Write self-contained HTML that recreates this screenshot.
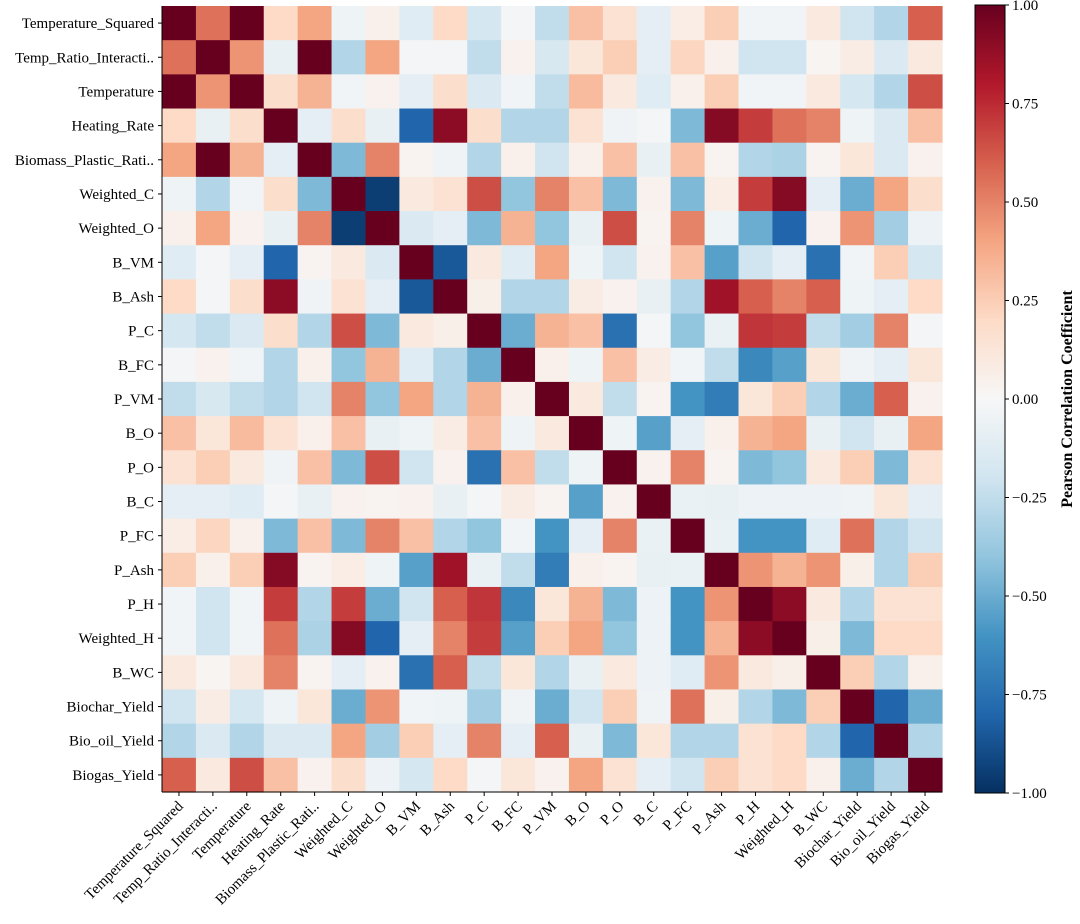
<!DOCTYPE html>
<html><head><meta charset="utf-8"><style>
body{margin:0;background:#fff;width:1080px;height:919px;overflow:hidden}
svg text{font-family:"Liberation Serif",serif;fill:#000}
</style></head><body>
<svg id="chart" width="1080" height="919" xmlns="http://www.w3.org/2000/svg"></svg>
<script>
const labels = ["Temperature_Squared","Temp_Ratio_Interacti..","Temperature","Heating_Rate","Biomass_Plastic_Rati..","Weighted_C","Weighted_O","B_VM","B_Ash","P_C","B_FC","P_VM","B_O","P_O","B_C","P_FC","P_Ash","P_H","Weighted_H","B_WC","Biochar_Yield","Bio_oil_Yield","Biogas_Yield"];
// upper triangle rows, each starting at the diagonal
const upper = [
[1,0.55,1,0.2,0.4,-0.05,0.05,-0.12,0.2,-0.18,-0.02,-0.25,0.3,0.15,-0.1,0.07,0.25,-0.03,-0.03,0.1,-0.2,-0.3,0.6],
[1,0.45,-0.08,1,-0.3,0.4,-0.02,-0.02,-0.25,0.04,-0.17,0.12,0.25,-0.1,0.22,0.05,-0.2,-0.2,0.02,0.08,-0.15,0.1],
[1,0.18,0.35,-0.03,0.04,-0.1,0.18,-0.15,-0.03,-0.25,0.32,0.1,-0.12,0.05,0.25,-0.03,-0.03,0.1,-0.18,-0.3,0.65],
[1,-0.1,0.18,-0.08,-0.8,0.9,0.18,-0.3,-0.3,0.15,-0.04,-0.02,-0.45,0.92,0.7,0.55,0.5,-0.05,-0.15,0.3],
[1,-0.45,0.5,0.03,-0.04,-0.3,0.05,-0.2,0.05,0.3,-0.08,0.3,0.03,-0.3,-0.32,0.03,0.12,-0.15,0.04],
[1,-0.95,0.1,0.15,0.65,-0.4,0.5,0.3,-0.45,0.04,-0.45,0.07,0.7,0.92,-0.1,-0.5,0.4,0.18],
[1,-0.15,-0.1,-0.45,0.35,-0.4,-0.08,0.65,0.03,0.5,-0.05,-0.5,-0.8,0.04,0.45,-0.35,-0.06],
[1,-0.85,0.1,-0.12,0.4,-0.05,-0.2,0.04,0.3,-0.55,-0.2,-0.1,-0.75,-0.03,0.25,-0.18],
[1,0.06,-0.3,-0.3,0.08,0.04,-0.08,-0.3,0.85,0.6,0.5,0.6,-0.05,-0.1,0.2],
[1,-0.5,0.35,0.3,-0.75,-0.02,-0.4,-0.07,0.72,0.7,-0.25,-0.35,0.5,-0.02],
[1,0.05,-0.05,0.3,0.08,-0.03,-0.25,-0.65,-0.55,0.12,-0.04,-0.1,0.12],
[1,0.1,-0.25,0.03,-0.6,-0.7,0.12,0.25,-0.3,-0.5,0.6,0.04],
[1,-0.05,-0.55,-0.1,0.05,0.35,0.4,-0.08,-0.2,-0.08,0.4],
[1,0.04,0.5,0.03,-0.45,-0.4,0.1,0.25,-0.45,0.15],
[1,-0.07,-0.08,-0.06,-0.06,-0.06,-0.04,0.12,-0.1],
[1,-0.07,-0.6,-0.6,-0.12,0.55,-0.3,-0.2],
[1,0.45,0.35,0.45,0.06,-0.3,0.25],
[1,0.9,0.1,-0.3,0.15,0.15],
[1,0.06,-0.45,0.2,0.2],
[1,0.25,-0.3,0.05],
[1,-0.8,-0.5],
[1,-0.3],
[1]
];
const cbTicks = [1,0.75,0.5,0.25,0,-0.25,-0.5,-0.75,-1];

const NS="http://www.w3.org/2000/svg";
const svg=document.getElementById('chart');
const n=labels.length;
const X0=162,X1=942,Y0=6,Y1=792;
const cw=(X1-X0)/n, ch=(Y1-Y0)/n;
const xPos=j=>X0+j*cw, yPos=i=>Y0+i*ch;
const stops=["#053061","#2166ac","#4393c3","#92c5de","#d1e5f0","#f7f7f7","#fddbc7","#f4a582","#d6604d","#b2182b","#67001f"];
function hex(h){return [1,3,5].map(k=>parseInt(h.substr(k,2),16));}
function color(v){
  let t=(Math.max(-1,Math.min(1,v))+1)/2*10;
  let k=Math.min(9,Math.floor(t)),f=t-k;
  const a=hex(stops[k]),b=hex(stops[k+1]);
  return 'rgb('+a.map((c,q)=>Math.round(c+(b[q]-c)*f)).join(',')+')';
}
function val(i,j){return i<=j?upper[i][j-i]:upper[j][i-j];}
function el(tag,attrs,parent){const e=document.createElementNS(NS,tag);for(const k in attrs)e.setAttribute(k,attrs[k]);(parent||svg).appendChild(e);return e;}
const g=el('g',{});


for(let i=0;i<n;i++)for(let j=0;j<n;j++){
  const r=el('rect',{x:xPos(j),y:yPos(i),width:cw+0.6,height:ch+0.6,fill:color(val(i,j))},g);
  
  
}
el('line',{x1:X0,y1:Y0,x2:X0,y2:Y1,stroke:'#000','stroke-width':1});
el('line',{x1:X0,y1:Y1,x2:X1,y2:Y1,stroke:'#000','stroke-width':1});
for(let i=0;i<n;i++){
  const cy=yPos(i)+ch/2;
  el('line',{x1:X0-4,y1:cy,x2:X0,y2:cy,stroke:'#000'});
  const t=el('text',{x:X0-8,y:cy+5,'text-anchor':'end','font-size':15});
  t.textContent=labels[i];
  
  
  const cx=xPos(i)+cw/2;
  el('line',{x1:cx,y1:Y1,x2:cx,y2:Y1+4,stroke:'#000'});
  const tx=el('text',{x:cx+5,y:Y1+15,'text-anchor':'end','font-size':15,transform:'rotate(-45 '+(cx+5)+' '+(Y1+15)+')'});
  tx.textContent=labels[i];
  
  
}
const CBX=975,CBW=30,CBY0=5,CBY1=793;
const defs=el('defs',{});
const lg=el('linearGradient',{id:'cbg',x1:0,y1:1,x2:0,y2:0},defs);
stops.forEach((s,k)=>el('stop',{offset:(k/10),'stop-color':s},lg));
const cb=el('rect',{x:CBX,y:CBY0,width:CBW,height:CBY1-CBY0,fill:'url(#cbg)',stroke:'#000','stroke-width':1});


const cbY=v=>CBY1-(v+1)/2*(CBY1-CBY0);
cbTicks.forEach(v=>{
  const y=cbY(v);
  el('line',{x1:CBX+CBW,y1:y,x2:CBX+CBW+4,y2:y,stroke:'#000'});
  const t=el('text',{x:CBX+CBW+7,y:y+5,'font-size':15});
  t.textContent=(v<0?'\u2212':'')+Math.abs(v).toFixed(2);
  
  
});
const ct=el('text',{x:1072,y:399,'text-anchor':'middle','font-size':16,'font-weight':'bold',transform:'rotate(-90 1072 399)'});
ct.textContent='Pearson Correlation Coefficient';


</script>
</body></html>
